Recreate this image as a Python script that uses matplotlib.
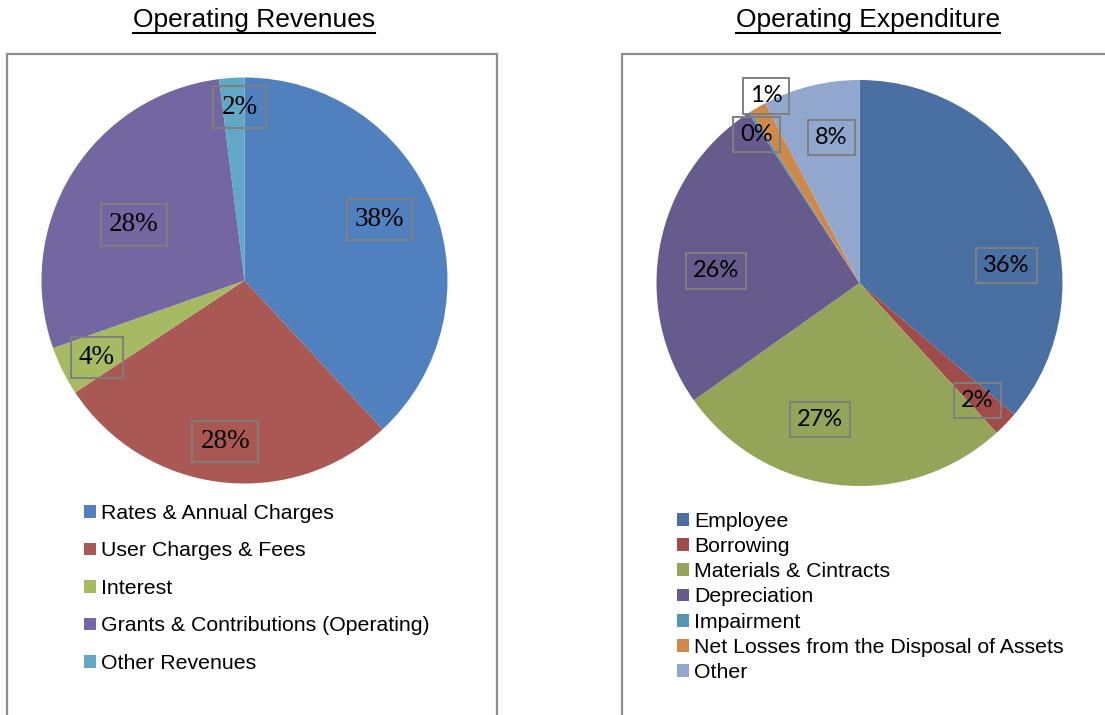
import matplotlib
matplotlib.use("Agg")
import matplotlib.pyplot as plt
import numpy as np
from matplotlib.patches import Rectangle
from matplotlib.lines import Line2D

W, H = 1105, 715

rev_labels = ['Rates & Annual Charges', 'User Charges & Fees', 'Interest',
              'Grants & Contributions (Operating)', 'Other Revenues']
rev_values = [38.1, 27.6, 3.9, 28.4, 2.0]
rev_colors = ['#5081BE', '#AA5853', '#A5BA63', '#7466A0', '#62A8C6']

exp_labels = ['Employee', 'Borrowing', 'Materials & Cintracts', 'Depreciation',
              'Impairment', 'Net Losses from the Disposal of Assets', 'Other']
exp_values = [36.2, 2.0, 27.0, 25.6, 0.2, 1.3, 7.7]
exp_colors = ['#4A6FA2', '#A04C4A', '#94A55A', '#675B8E', '#5595B0', '#CE894A', '#91A7CE']

# label placement: (radius factor, angle nudge in degrees)
rev_lpos = [(0.73, -3), (0.80, 0), (0.82, -1), (0.61, -5), (0.855, 2)]
exp_lpos = [(0.73, 18), (0.82, 1), (0.70, 10), (0.71, -6), (0.89, -2), (1.03, 3.5), (0.73, 3)]

fig = plt.figure(figsize=(W / 100, H / 100), dpi=100)


def fx(px):
    return px / W


def fy(py):
    return 1 - py / H


# panel frames
for x0, x1 in [(7, 497), (622, 1140)]:
    fig.add_artist(Rectangle((fx(x0), fy(760)), fx(x1 - x0), (760 - 54) / H,
                             transform=fig.transFigure, fill=False,
                             edgecolor='#8E8E8E', lw=1.6, clip_on=False))


def draw_pie(cx, cy, r, values, colors, lpos, font, fsize):
    ax = fig.add_axes([fx(cx - r), fy(cy + r), fx(2 * r), 2 * r / H])
    wedges, _ = ax.pie(values, colors=colors, startangle=90, counterclock=False,
                       wedgeprops=dict(linewidth=0))
    ax.set_xlim(-1, 1)
    ax.set_ylim(-1, 1)
    ax.set_aspect('equal')
    ax.axis('off')
    total = sum(values)
    cum = 0
    for v, (rf, nudge) in zip(values, lpos):
        mid = (cum + v / 2) / total * 360 + nudge
        cum += v
        a = np.radians(mid)
        ax.text(rf * np.sin(a), rf * np.cos(a), '%.0f%%' % (v / total * 100),
                ha='center', va='center', fontsize=fsize, family=font,
                bbox=dict(boxstyle='square,pad=0.3', fc='none', ec='#7F7F7F', lw=1.4))
    return wedges


w1 = draw_pie(244.5, 280.5, 203, rev_values, rev_colors, rev_lpos, 'Liberation Serif', 19.5)
w2 = draw_pie(859.5, 283, 203, exp_values, exp_colors, exp_lpos, 'Lato', 17)

leg1 = fig.legend(w1, rev_labels, loc='upper left', bbox_to_anchor=(fx(84), fy(504)),
                  frameon=False, prop=dict(family='Liberation Sans', size=15.3),
                  handlelength=0.55, handleheight=0.55, handletextpad=0.25,
                  labelspacing=0.87, borderpad=0, borderaxespad=0)
leg2 = fig.legend(w2, exp_labels, loc='upper left', bbox_to_anchor=(fx(677), fy(512)),
                  frameon=False, prop=dict(family='Liberation Sans', size=15.3),
                  handlelength=0.55, handleheight=0.55, handletextpad=0.25,
                  labelspacing=0.29, borderpad=0, borderaxespad=0)

titles = []
for x, s in [(254, 'Operating Revenues'), (868, 'Operating Expenditure')]:
    titles.append(fig.text(fx(x), fy(20), s, ha='center', va='center',
                           fontsize=19, family='Liberation Sans'))

fig.canvas.draw()
ren = fig.canvas.get_renderer()
for t in titles:
    bb = t.get_window_extent(ren)
    fig.add_artist(Line2D([bb.x0 / W, bb.x1 / W], [fy(32.5), fy(32.5)],
                          transform=fig.transFigure, color='black', lw=1.5))

fig.savefig('out.png', dpi=100)
